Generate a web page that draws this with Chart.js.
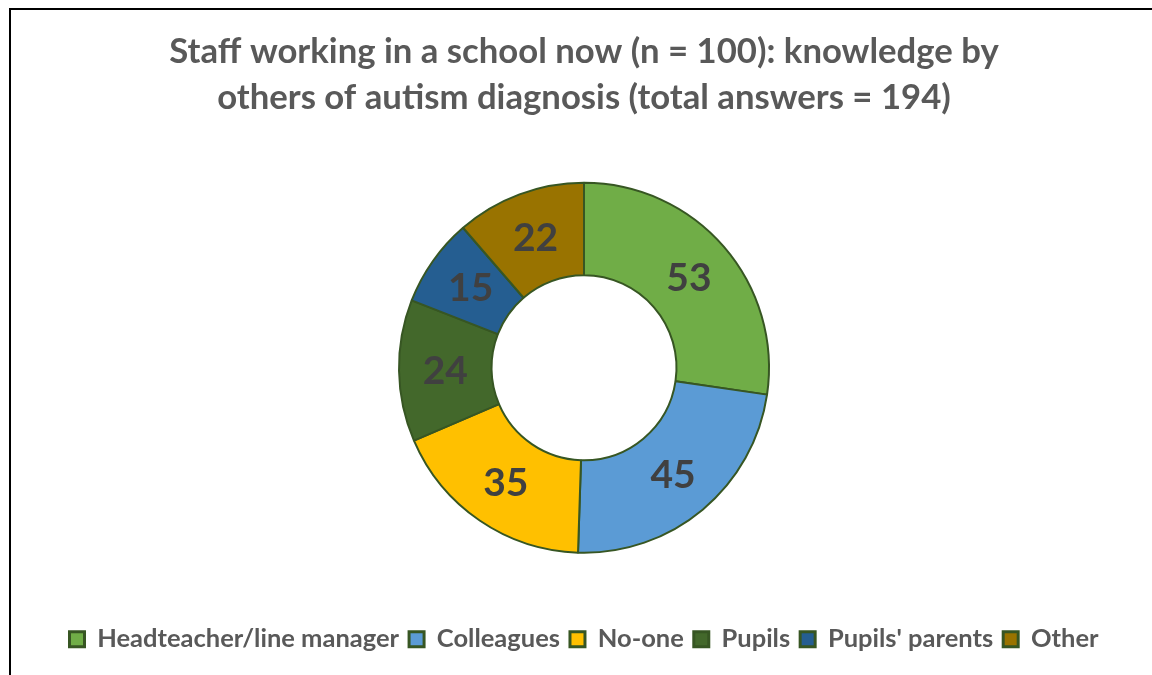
<!DOCTYPE html>
<html>
<head>
<meta charset="utf-8">
<script src="https://cdn.jsdelivr.net/npm/chart.js@4/dist/chart.umd.min.js"></script>
<style>
  html, body { margin: 0; padding: 0; background: #fff; overflow: hidden; width: 1152px; height: 675px; }
  #frame { position: absolute; left: 9px; top: 8px; width: 1160px; height: 680px; border-left: 2px solid #000; border-top: 2px solid #000; box-sizing: border-box; }
  #wrap { position: absolute; left: 11px; top: 10px; width: 1150px; height: 665px; }
</style>
</head>
<body>
<div id="frame"></div>
<div id="wrap"><canvas id="c"></canvas></div>
<script>
const titleLines = ["Staff working in a school now (n = 100): knowledge by", "others of autism diagnosis (total answers = 194)"];
const categories = ["Headteacher/line manager", "Colleagues", "No-one", "Pupils", "Pupils' parents", "Other"];
const values = [53, 45, 35, 24, 15, 22];
const sliceColors = ["#70AD47", "#5B9BD5", "#FFC000", "#43682B", "#255E91", "#997300"];

const FONT = "Lato, 'Open Sans', sans-serif";

const labelPlugin = {
  id: 'sliceLabels',
  afterDatasetsDraw(chart) {
    const ctx = chart.ctx;
    const meta = chart.getDatasetMeta(0);
    ctx.save();
    ctx.font = "bold 39px " + FONT;
    ctx.fillStyle = '#404040';
    ctx.textAlign = 'center';
    ctx.textBaseline = 'middle';
    meta.data.forEach((arc, i) => {
      const p = arc.tooltipPosition();
      ctx.fillText(String(values[i]), p.x, p.y + 1);
    });
    ctx.restore();
  }
};

new Chart(document.getElementById('c'), {
  type: 'doughnut',
  data: {
    labels: categories,
    datasets: [{
      data: values,
      backgroundColor: sliceColors,
      borderColor: '#375623',
      borderWidth: 2,
      hoverOffset: 0
    }]
  },
  options: {
    responsive: true,
    maintainAspectRatio: false,
    animation: false,
    cutout: '50%',
    radius: 185,
    layout: { padding: { left: 0, right: 4, top: 0, bottom: 13 } },
    plugins: {
      title: {
        display: true,
        text: titleLines,
        color: '#595959',
        font: { family: FONT, size: 34.7, weight: 'bold', lineHeight: 1.326 },
        padding: { top: 19, bottom: -2 }
      },
      legend: {
        display: true,
        position: 'bottom',
        labels: {
          color: '#595959',
          font: { family: FONT, size: 25.5, weight: 'bold' },
          boxWidth: 15,
          boxHeight: 15,
          padding: 10,
          generateLabels: (chart) =>
            Chart.overrides.doughnut.plugins.legend.labels.generateLabels(chart)
              .map(l => Object.assign(l, { lineWidth: 3, strokeStyle: '#375623' }))
        }
      },
      tooltip: { enabled: false }
    }
  },
  plugins: [labelPlugin]
});
</script>
</body>
</html>
